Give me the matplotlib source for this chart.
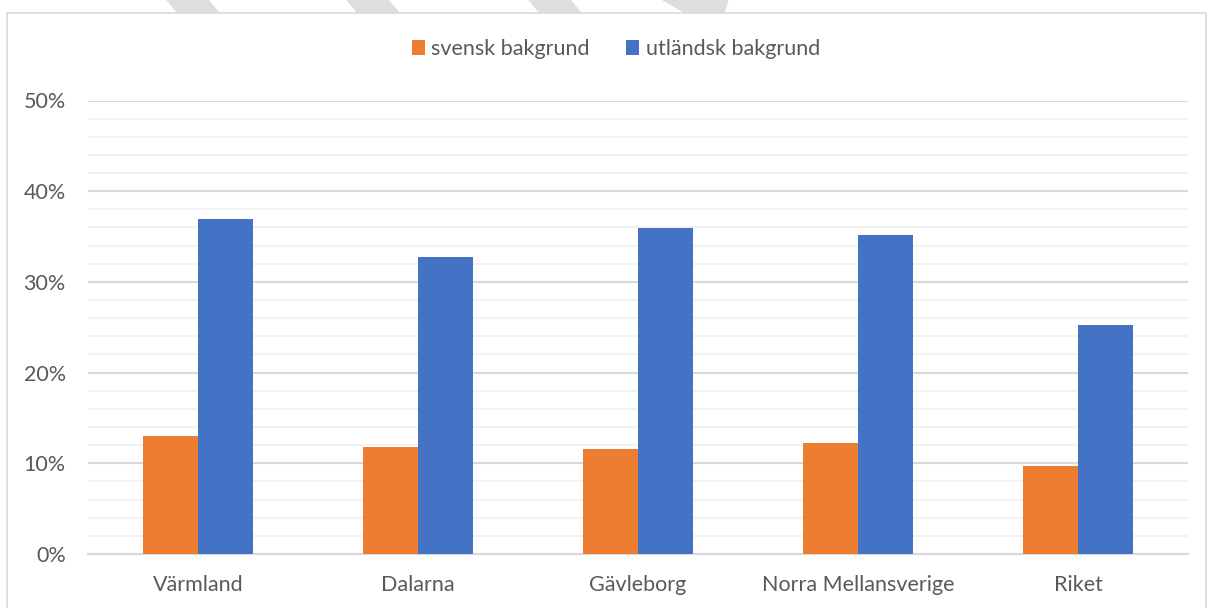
import numpy as np
import matplotlib
matplotlib.use("Agg")
from matplotlib import pyplot as plt
from matplotlib.patches import Rectangle, Polygon
from matplotlib.ticker import MultipleLocator, PercentFormatter

regions = ["Värmland", "Dalarna", "Gävleborg", "Norra Mellansverige", "Riket"]
svensk = [13.0, 11.8, 11.6, 12.2, 9.7]
utlandsk = [36.9, 32.8, 35.9, 35.2, 25.3]
series_names = ["svensk bakgrund", "utländsk bakgrund"]

orange = "#ed7d31"
blue = "#4472c4"
text_grey = "#595959"

plt.rcParams['font.family'] = ['Lato', 'DejaVu Sans']

W, H = 1213, 608
fig = plt.figure(figsize=(W / 100, H / 100), dpi=100)

# faint diagonal strokes peeking above the chart frame
for x0 in (167, 347, 529):
    pts = [(x0, H), (x0 + 41, H), (x0 + 52, H - 13), (x0 + 11, H - 13)]
    fig.patches.append(Polygon([(px / W, py / H) for px, py in pts],
                               transform=fig.transFigure, color="#dedede", zorder=0))
pts = [(663, H), (728, H), (724, H - 13), (686, H - 13)]
fig.patches.append(Polygon([(px / W, py / H) for px, py in pts],
                           transform=fig.transFigure, color="#dedede", zorder=0))

# chart area frame
fig.patches.append(Rectangle((7 / W, -0.05), (1206 - 7) / W, (H - 12.5) / H + 0.05,
                             transform=fig.transFigure, facecolor="white",
                             edgecolor="#d9d9d9", linewidth=1.2, zorder=1))

ax = fig.add_axes([88 / W, 54 / H, 1100 / W, 453.5 / H])
ax.set_zorder(2)
ax.patch.set_alpha(0)

x = np.arange(len(regions))
w = 0.25
b1 = ax.bar(x - w / 2, svensk, w, color=orange, label=series_names[0], zorder=3)
b2 = ax.bar(x + w / 2, utlandsk, w, color=blue, label=series_names[1], zorder=3)

ax.set_xlim(-0.5, len(regions) - 0.5)
ax.set_ylim(0, 50)
ax.yaxis.set_major_locator(MultipleLocator(10))
ax.yaxis.set_minor_locator(MultipleLocator(2))
ax.yaxis.set_major_formatter(PercentFormatter(decimals=0))
ax.grid(axis="y", which="minor", color="#f2f2f2", linewidth=1.5, zorder=0)
ax.grid(axis="y", which="major", color="#d9d9d9", linewidth=1.5, zorder=1)
ax.set_axisbelow(True)

for s in ["top", "right", "left"]:
    ax.spines[s].set_visible(False)
ax.spines["bottom"].set_color("#d9d9d9")
ax.spines["bottom"].set_linewidth(1.5)

ax.set_xticks(x)
ax.set_xticklabels(regions)
ax.tick_params(axis="both", which="both", length=0, labelsize=15.5, labelcolor=text_grey)
ax.tick_params(axis="x", pad=15)
ax.tick_params(axis="y", pad=16)

fig.legend(handles=[b1, b2], labels=series_names, loc="center",
           bbox_to_anchor=(616 / W, 1 - 49 / H), ncol=2, frameon=False,
           fontsize=15.5, labelcolor=text_grey, handlelength=0.6, handleheight=0.7,
           handletextpad=0.3, columnspacing=1.7)

fig.savefig("out.png", dpi=100)
